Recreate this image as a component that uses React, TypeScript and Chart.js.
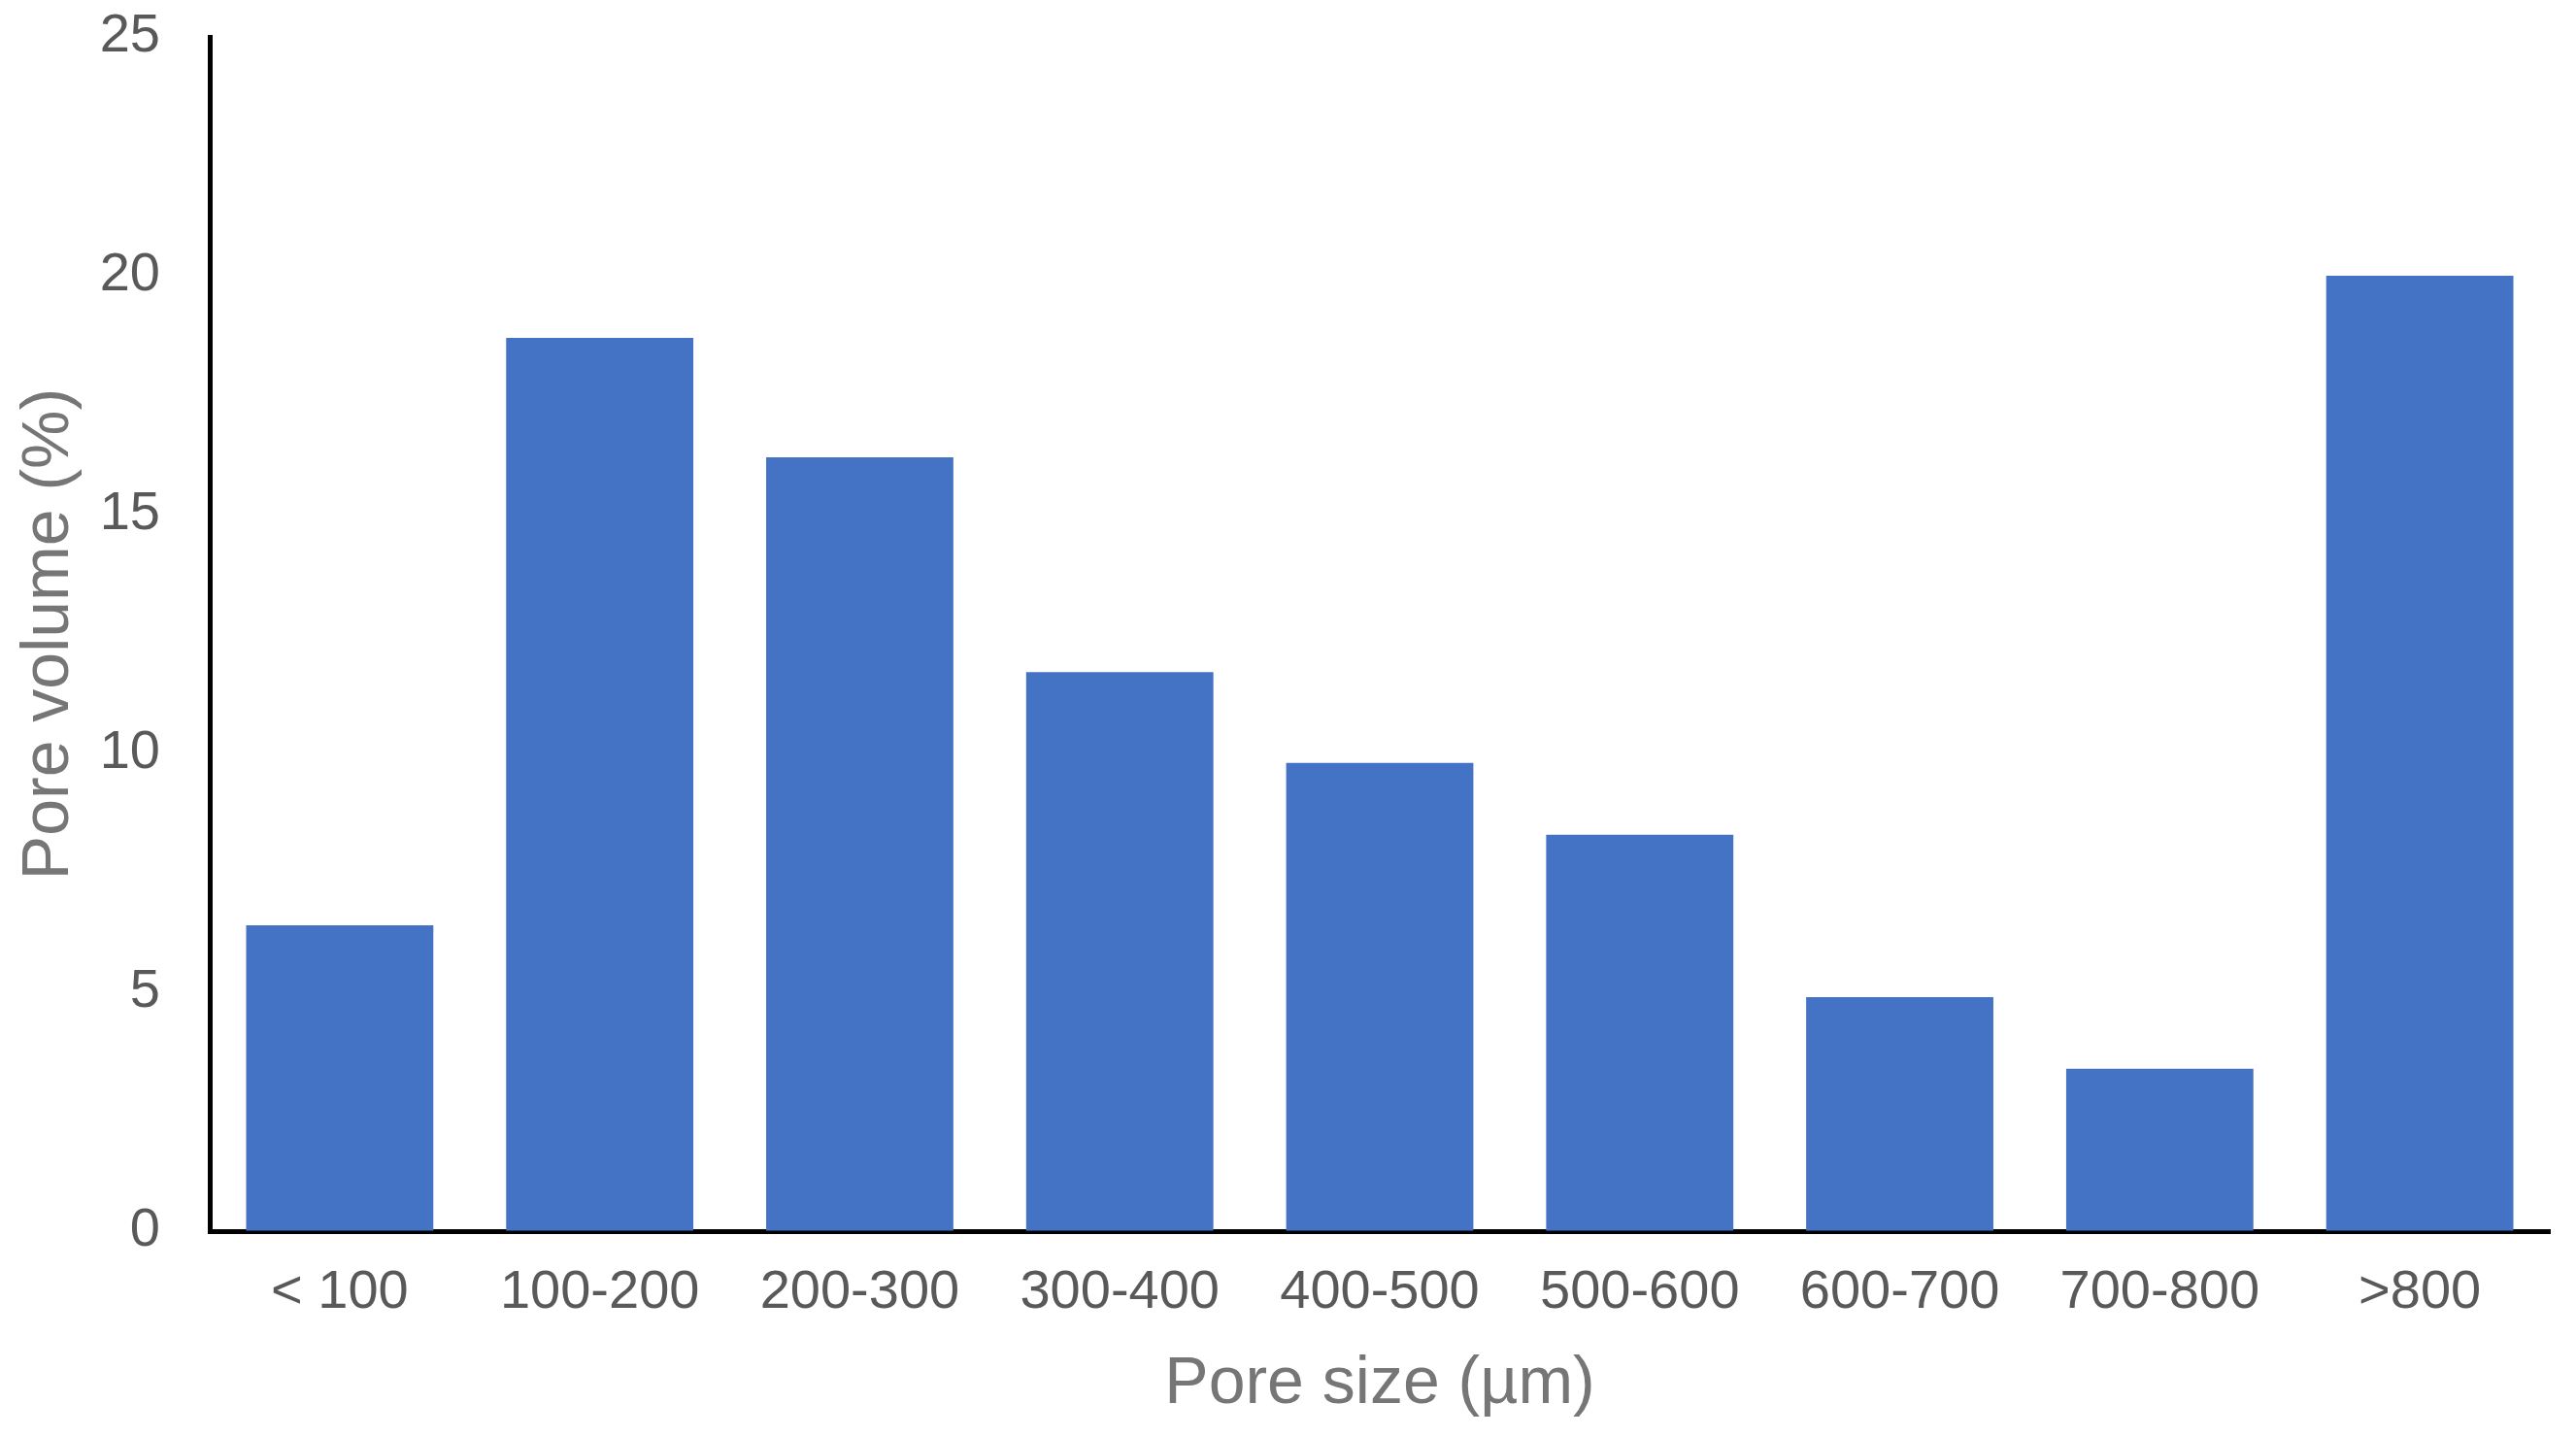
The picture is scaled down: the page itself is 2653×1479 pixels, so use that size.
import React, { useEffect, useRef } from "react";
import { Chart, registerables } from "chart.js";

Chart.register(...registerables);

const categories = ["< 100", "100-200", "200-300", "300-400", "400-500", "500-600", "600-700", "700-800", ">800"];
const poreVolume = [6.4, 18.7, 16.2, 11.7, 9.8, 8.3, 4.9, 3.4, 20.0];
const yTicks = [0, 5, 10, 15, 20, 25];

const FONT = "'Liberation Sans', Arial, sans-serif";

export default function App() {
  const ref = useRef<HTMLCanvasElement | null>(null);

  useEffect(() => {
    if (!ref.current) return;
    const chart = new Chart(ref.current, {
      type: "bar",
      data: {
        labels: categories,
        datasets: [
          {
            data: poreVolume,
            backgroundColor: "#4472C4",
            borderWidth: 0,
            barPercentage: 0.72,
            categoryPercentage: 1,
          },
        ],
      },
      options: {
        animation: false,
        responsive: true,
        maintainAspectRatio: false,
        layout: { padding: { top: 38, right: 27, bottom: 0, left: 0 } },
        plugins: { legend: { display: false }, tooltip: { enabled: false } },
        scales: {
          x: {
            grid: { display: true, color: "transparent", drawTicks: false },
            border: { display: true, color: "#000000", width: 5 },
            ticks: {
              color: "#595959",
              font: { family: FONT, size: 56 },
              padding: 30,
              maxRotation: 0,
              autoSkip: false,
            },
            title: {
              display: true,
              text: "Pore size (µm)",
              color: "#767676",
              font: { family: FONT, size: 68 },
              padding: { top: 0, bottom: 12 },
            },
            afterFit: (scale: any) => {
              scale.height = 211;
              scale.paddingLeft = 0;
              scale.paddingRight = 0;
            },
          },
          y: {
            min: 0,
            max: 25,
            afterBuildTicks: (scale: any) => {
              scale.ticks = yTicks.map((v) => ({ value: v }));
            },
            grid: { display: true, color: "transparent", drawTicks: false },
            border: { display: true, color: "#000000", width: 5 },
            ticks: {
              color: "#595959",
              font: { family: FONT, size: 56 },
              padding: 51,
            },
            title: {
              display: true,
              text: "Pore volume (%)",
              color: "#767676",
              font: { family: FONT, size: 68 },
              padding: { top: 10, bottom: 0 },
            },
            afterFit: (scale: any) => {
              scale.width = 216;
              scale.paddingTop = 0;
              scale.paddingBottom = 0;
            },
          },
        },
      },
    });
    return () => chart.destroy();
  }, []);

  return (
    <div style={{ position: "absolute", left: 0, top: 0, width: 2653, height: 1479, background: "#ffffff" }}>
      <canvas ref={ref} />
    </div>
  );
}
